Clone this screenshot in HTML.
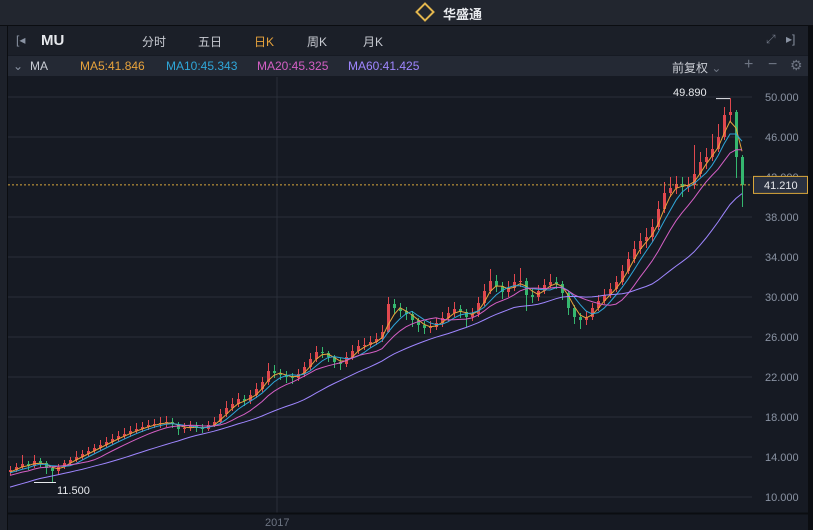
<!DOCTYPE html>
<html><head><meta charset="utf-8"><style>
body{margin:0;width:813px;height:530px;overflow:hidden;background:#161a23;font-family:"Liberation Sans","Noto Sans CJK SC",sans-serif}
.abs{position:absolute}
</style></head><body>
<div class="abs" style="left:0;top:0;width:813px;height:25px;background:#22262f;border-bottom:1px solid #0b0d11">
 <div class="abs" style="left:418px;top:5px;width:10px;height:10px;border:2px solid #e2b64e;transform:rotate(45deg)"></div>
 <div class="abs" style="left:443px;top:4px;color:#e6e8ec;font-size:13px;font-weight:bold">华盛通</div>
</div>
<div class="abs" style="left:8px;top:26px;width:800px;height:29px;background:#1b1f28">
 <div class="abs" style="left:8px;top:7px;color:#8a93a3;font-size:12px">[◂</div>
 <div class="abs" style="left:33px;top:6px;color:#e6e8ec;font-size:15px;font-weight:bold">MU</div>
 <div class="abs" style="left:134px;top:7px;color:#c9ccd3;font-size:12px">分时</div>
 <div class="abs" style="left:190px;top:7px;color:#c9ccd3;font-size:12px">五日</div>
 <div class="abs" style="left:246px;top:7px;color:#e8a33c;font-size:12px">日K</div>
 <div class="abs" style="left:299px;top:7px;color:#c9ccd3;font-size:12px">周K</div>
 <div class="abs" style="left:355px;top:7px;color:#c9ccd3;font-size:12px">月K</div>
 <div class="abs" style="left:758px;top:6px;color:#6d7482;font-size:12px">⤢</div>
 <div class="abs" style="left:778px;top:6px;color:#8a93a3;font-size:12px">▸]</div>
</div>
<div class="abs" style="left:8px;top:56px;width:800px;height:20px;background:#242934;font-size:12px">
 <div class="abs" style="left:5px;top:3px;color:#8a93a3">⌄</div>
 <div class="abs" style="left:22px;top:3px;color:#c9ccd3">MA</div>
 <div class="abs" style="left:72px;top:3px;color:#e8a33c">MA5:41.846</div>
 <div class="abs" style="left:158px;top:3px;color:#2fa6d8">MA10:45.343</div>
 <div class="abs" style="left:249px;top:3px;color:#d45fc5">MA20:45.325</div>
 <div class="abs" style="left:340px;top:3px;color:#9f86ff">MA60:41.425</div>
 <div class="abs" style="left:664px;top:3px;color:#c9ccd3">前复权 <span style="color:#6d7482">⌄</span></div>
 <div class="abs" style="left:736px;top:0px;color:#6d7482;font-size:16px">+</div>
 <div class="abs" style="left:760px;top:0px;color:#6d7482;font-size:16px">−</div>
 <div class="abs" style="left:782px;top:1px;color:#6d7482;font-size:14px">⚙</div>
</div>
<div class="abs" style="left:0;top:26px;width:7px;height:504px;background:#1d212a;border-right:1px solid #0b0d11"></div>
<div class="abs" style="left:808px;top:26px;width:5px;height:504px;background:#0b0d11"></div>
<svg id="chart" class="abs" style="left:0;top:0" width="813" height="530"></svg>
<script>
const yTicks=[50,46,42,38,34,30,26,22,18,14,10];
const priorCloses=[9.0,9.2,9.5,9.3,9.6,9.9,10.1,9.8,10.2,10.5,10.8,11.0,11.3,11.1,11.5,11.8,12.1,11.9,12.2,12.4,12.3,12.5];
const closes=[12.7,13.0,13.3,13.1,13.6,13.4,12.9,12.6,13.0,13.4,13.7,14.0,14.3,14.6,14.9,15.2,15.5,15.8,16.1,16.3,16.6,16.8,17.0,17.2,17.3,17.4,17.5,17.3,16.8,16.9,17.1,16.9,16.8,17.2,17.5,18.3,18.9,19.3,19.8,19.6,20.2,20.8,21.5,22.6,22.4,22.2,22.0,21.9,22.3,23.0,23.8,24.5,24.4,24.0,23.5,23.3,24.0,24.6,25.1,25.2,25.5,25.8,26.5,29.3,28.9,28.6,28.3,27.7,27.2,26.9,27.0,27.4,27.9,28.4,28.8,28.5,28.0,28.3,29.4,30.6,31.6,31.1,30.5,30.9,31.5,31.6,30.2,30.0,30.6,31.2,31.5,31.3,30.4,28.9,28.0,27.7,28.0,28.9,29.6,30.2,30.8,31.5,32.6,33.8,34.8,35.6,36.0,37.0,38.8,40.4,40.9,41.3,41.0,41.2,42.3,43.5,44.0,44.8,46.0,48.2,48.5,44.0,41.21];
const highs=[13.1,13.4,14.2,13.6,14.2,13.9,13.6,13.1,13.3,13.7,14.0,14.6,14.7,15.0,15.3,15.7,16.0,16.3,16.6,16.9,17.1,17.4,17.5,17.7,17.8,18.0,18.1,17.9,17.5,17.4,17.6,17.5,17.3,17.6,18.0,18.8,19.6,19.9,20.4,20.2,20.7,21.4,22.0,23.4,23.2,22.8,22.6,22.4,22.8,23.5,24.4,25.1,25.0,24.6,24.2,23.9,24.5,25.2,25.7,25.9,26.1,26.4,27.2,30.0,29.8,29.4,29.0,28.6,27.9,27.6,27.6,27.9,28.5,29.0,29.5,29.2,28.8,28.9,30.0,31.3,32.8,32.2,31.5,31.6,32.3,32.9,31.9,30.8,31.2,31.8,32.3,32.0,31.6,30.6,29.2,28.4,28.6,29.4,30.2,30.8,31.4,32.1,33.2,34.5,35.6,36.4,36.9,37.8,39.6,41.5,42.0,42.1,42.0,42.0,45.2,44.5,44.9,46.3,47.3,49.0,49.89,48.7,44.2];
const lows=[12.2,12.5,12.8,12.7,12.9,13.0,12.3,11.5,12.2,12.8,13.1,13.5,13.7,14.0,14.3,14.6,15.0,15.2,15.5,15.8,16.0,16.3,16.5,16.7,16.9,16.9,17.0,16.9,16.2,16.4,16.6,16.5,16.4,16.6,17.0,17.3,18.0,18.6,19.0,19.1,19.3,19.9,20.5,21.2,21.9,21.7,21.4,21.3,21.6,22.0,22.7,23.5,23.9,23.5,22.9,22.7,23.0,23.7,24.3,24.7,24.9,25.2,25.5,26.4,28.3,28.0,27.7,27.0,26.5,26.3,26.4,26.7,27.0,27.6,28.0,27.9,27.0,27.6,28.0,29.1,30.3,30.5,29.8,30.0,30.6,31.0,28.6,29.4,29.6,30.3,30.9,30.8,29.7,28.2,27.3,26.8,27.2,27.7,28.6,29.3,29.9,30.5,31.2,32.3,33.4,34.3,34.9,35.5,36.7,38.4,40.0,40.3,40.0,40.5,40.8,42.0,42.8,43.6,44.5,45.7,47.5,41.9,39.0];
const firstOpen=12.5;
const maPeriods=[3,5,9,22];
const maColors=['#e8a33c','#2fa6d8','#d45fc5','#9f86ff'];
const lastPrice=41.21, peakLabel='49.890', lowLabel='11.500', xLabel='2017', xLabelIndex=45;

const svg=document.getElementById('chart');
const NS='http://www.w3.org/2000/svg';
const X0=10,DX=6,PL=8,PR=752;
function xs(i){return X0+i*DX;}
function ys(v){return 97+(50-v)*10;}
function mk(t,a){const e=document.createElementNS(NS,t);for(const k in a)e.setAttribute(k,a[k]);svg.appendChild(e);return e;}

yTicks.forEach(v=>{
 const l=mk('line',{x1:PL,x2:PR,y1:ys(v),y2:ys(v),stroke:'#2a2f3a','stroke-width':1});
 
 
 const t=mk('text',{x:765,y:ys(v)+4,fill:'#8a93a3','font-size':11,'font-family':'Liberation Sans, sans-serif'});
 t.textContent=v.toFixed(3);
 
 
});
const vg=mk('line',{x1:xs(xLabelIndex)-3,x2:xs(xLabelIndex)-3,y1:77,y2:513,stroke:'#2a2f3a'});


const ax=mk('line',{x1:PL,x2:808,y1:513.5,y2:513.5,stroke:'#0b0d11','stroke-width':2});


const xl=mk('text',{x:xs(xLabelIndex)-15,y:526,fill:'#6d7482','font-size':11,'font-family':'Liberation Sans, sans-serif'});
xl.textContent=xLabel;



closes.forEach((c,i)=>{
 const o=i===0?firstOpen:closes[i-1];
 const col=c>=o?'#e0484e':'#35b76f';
 const w=mk('line',{x1:xs(i)+0.5,x2:xs(i)+0.5,y1:ys(highs[i]),y2:ys(lows[i]),stroke:col,'stroke-width':1});
 
 
 const top=ys(Math.max(o,c)),bot=ys(Math.min(o,c));
 const b=mk('rect',{x:xs(i)-1,y:top,width:3,height:Math.max(1,bot-top),fill:col});
 
 
});

const all=priorCloses.concat(closes), off=priorCloses.length;
maPeriods.forEach((p,k)=>{
 const pts=closes.map((c,i)=>{const j=i+off;const s=all.slice(Math.max(0,j-p+1),j+1);const m=s.reduce((a,b)=>a+b,0)/s.length;return xs(i)+','+ys(m).toFixed(1);});
 const pl=mk('polyline',{points:pts.join(' '),fill:'none',stroke:maColors[k],'stroke-width':1});
 
 
});

const dl=mk('line',{x1:PL,x2:PR,y1:ys(lastPrice),y2:ys(lastPrice),stroke:'#d8a63b','stroke-dasharray':'2,2'});


const bx=mk('rect',{x:753.5,y:ys(lastPrice)-8.5,width:54,height:17,fill:'#2a3140',stroke:'#d8a63b'});


const bt=mk('text',{x:764,y:ys(lastPrice)+4,fill:'#e6e8ec','font-size':11,'font-family':'Liberation Sans, sans-serif'});
bt.textContent=lastPrice.toFixed(3);



let hi=0,lo=0;highs.forEach((h,i)=>{if(h>highs[hi])hi=i;});lows.forEach((l,i)=>{if(l<lows[lo])lo=i;});
const pk=mk('line',{x1:xs(hi)-14,x2:xs(hi),y1:ys(highs[hi])+0.5,y2:ys(highs[hi])+0.5,stroke:'#e6e8ec'});


const pt=mk('text',{x:xs(hi)-57,y:ys(highs[hi])-2,fill:'#e6e8ec','font-size':11,'font-family':'Liberation Sans, sans-serif'});
pt.textContent=peakLabel;


const lm=mk('line',{x1:xs(lo)-18,x2:xs(lo)+4,y1:ys(lows[lo])+0.5,y2:ys(lows[lo])+0.5,stroke:'#e6e8ec'});


const lt=mk('text',{x:xs(lo)+5,y:ys(lows[lo])+12,fill:'#e6e8ec','font-size':11,'font-family':'Liberation Sans, sans-serif'});
lt.textContent=lowLabel;


</script>
</body></html>
